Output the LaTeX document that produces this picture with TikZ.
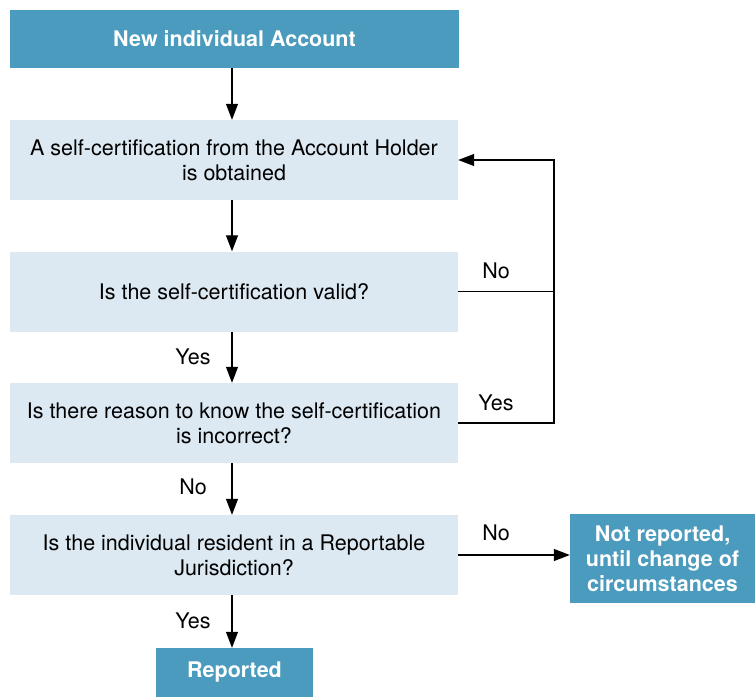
\documentclass[tikz,border=0pt]{standalone}
\usepackage{fontspec}
\setmainfont{TeX Gyre Heros}
\usetikzlibrary{arrows.meta}

\definecolor{headColor}{RGB}{74,155,189}
\definecolor{stepColor}{RGB}{220,233,242}

\begin{document}
\begin{tikzpicture}[x=1pt,y=-1pt,
  every node/.style={font=\fontsize{21.5}{25}\selectfont},
  headbox/.style={fill=headColor,text=white,align=center,inner sep=0pt,
    font=\fontsize{21.5}{25}\selectfont\bfseries},
  stepbox/.style={fill=stepColor,align=center,inner sep=0pt,
    minimum width=448pt,minimum height=80pt},
  arr/.style={-{Triangle[length=16pt,width=12pt]},line width=1.1pt}]
  \useasboundingbox (0,0) rectangle (755,698);
  % Boxes
  \node[headbox,minimum width=449pt,minimum height=58pt] (new) at (234.5,39) {New individual Account};
  \node[stepbox] (cert) at (234,160) {A self-certification from the Account Holder\\is obtained};
  \node[stepbox] (valid) at (234,291.5) {Is the self-certification valid?};
  \node[stepbox] (wrong) at (234,423) {Is there reason to know the self-certification\\is incorrect?};
  \node[stepbox] (resident) at (234,555) {Is the individual resident in a Reportable\\Jurisdiction?};
  \node[headbox,minimum width=157pt,minimum height=49pt] (rep) at (234.5,672.5) {\raisebox{-3pt}{Reported}};
  \node[headbox,minimum width=185pt,minimum height=89pt] (notrep) at (662.5,558.5) {Not reported,\\until change of\\circumstances};
  \coordinate (spine) at (232,0);
  \coordinate (loop) at (554,0);
  % Arrows
  \draw[arr] (new.south -| spine) -- (cert.north -| spine);
  \draw[arr] (cert.south -| spine) -- (valid.north -| spine);
  \draw[arr] (valid.south -| spine) -- (wrong.north -| spine);
  \draw[arr] (wrong.south -| spine) -- (resident.north -| spine);
  \draw[arr] (resident.south -| spine) -- (rep.north -| spine);
  \draw[arr] (resident.east) -- (resident.east -| notrep.west);
  \draw[line width=1.1pt] (valid.east) -- (valid.east -| loop);
  \draw[arr] (wrong.east) -- (wrong.east -| loop) |- (cert.east);
  % Labels
  \node (no1) at (496,271) {No};
  \node (yes1) at (496,403) {Yes};
  \node (yes2) at (193,357) {Yes};
  \node (no2) at (193,487) {No};
  \node (no3) at (496,533) {No};
  \node (yes3) at (193,621) {Yes};
\end{tikzpicture}
\end{document}
